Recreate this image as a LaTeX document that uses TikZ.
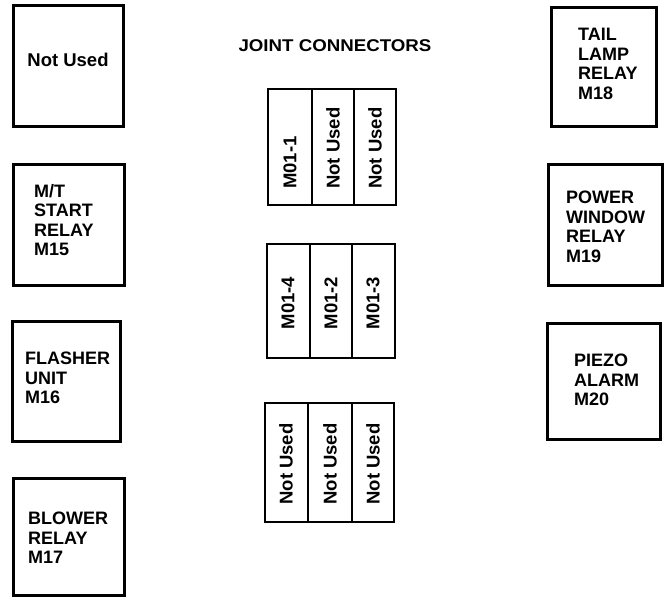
\documentclass[tikz,border=0pt]{standalone}
\usepackage{fontspec}
\setmainfont{Liberation Sans}
\begin{document}
\begin{tikzpicture}[x=1pt,y=-1pt,
  box/.style={draw=black,line width=3pt,fill=white},
  cell/.style={draw=black,line width=2.8pt,fill=none},
  lbl/.style={inner sep=0pt,align=left,font=\fontsize{18}{19.5}\selectfont\bfseries},
  rot/.style={inner sep=0pt,rotate=90,font=\fontsize{18.5}{19}\selectfont\bfseries},
  title/.style={inner sep=0pt,font=\fontsize{17}{18}\selectfont\bfseries,xscale=1.1}]
\useasboundingbox (0,0) rectangle (672,606);
% left column
\draw[box] (13,5) rectangle (123,126);
\node[inner sep=0pt,font=\fontsize{18.5}{19}\selectfont\bfseries] (t1) at (68,60) {Not Used};
\draw[box] (13,164) rectangle (124,285);
\node[lbl,anchor=west] (t2) at (34,220) {M/T\\START\\RELAY\\M15};
\draw[box] (12,321) rectangle (120,441);
\node[lbl,anchor=west] (t3) at (25,378) {FLASHER\\UNIT\\M16};
\draw[box] (13,478) rectangle (124,595);
\node[lbl,anchor=west] (t4) at (28,538) {BLOWER\\RELAY\\M17};
% right column
\draw[box] (551,7) rectangle (656,126);
\node[lbl,anchor=west] (t5) at (578,64) {TAIL\\LAMP\\RELAY\\M18};
\draw[box] (548,164) rectangle (662,285);
\node[lbl,anchor=west] (t6) at (566,227) {POWER\\WINDOW\\RELAY\\M19};
\draw[box] (547,323) rectangle (660,439);
\node[lbl,anchor=west] (t7) at (574,380) {PIEZO\\ALARM\\M20};
% title
\node[title] (title) at (335,46) {JOINT CONNECTORS};
% group 1
\draw[cell] (268,89) rectangle (396,205);
\draw[cell] (312,89) -- (312,205);
\draw[cell] (354,89) -- (354,205);
\node[rot,anchor=west] (c11) at (290,189) {M01-1};
\node[rot,anchor=west] (c12) at (333,189) {Not Used};
\node[rot,anchor=west] (c13) at (375,189) {Not Used};
% group 2
\draw[cell] (267,244) rectangle (395,358);
\draw[cell] (310,244) -- (310,358);
\draw[cell] (352,244) -- (352,358);
\node[rot] (c21) at (288,303) {M01-4};
\node[rot] (c22) at (331,303) {M01-2};
\node[rot] (c23) at (373,303) {M01-3};
% group 3
\draw[cell] (265,403) rectangle (394,522);
\draw[cell] (308,403) -- (308,522);
\draw[cell] (352,403) -- (352,522);
\node[rot] (c31) at (286,464) {Not Used};
\node[rot] (c32) at (330,464) {Not Used};
\node[rot] (c33) at (373,464) {Not Used};
\end{tikzpicture}
\end{document}
